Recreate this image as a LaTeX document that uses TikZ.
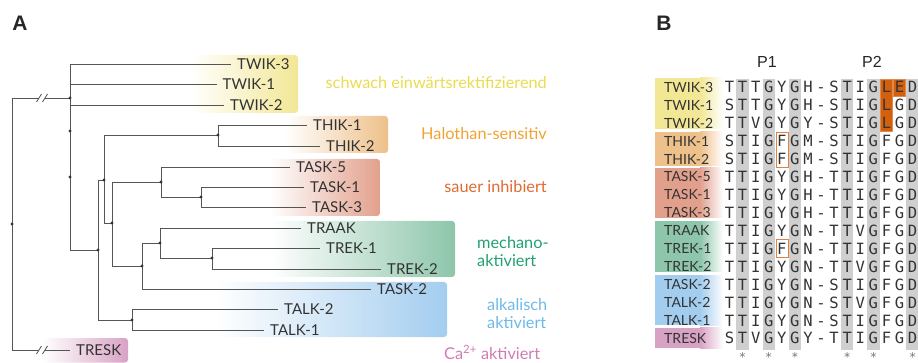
\documentclass[tikz,border=0pt]{standalone}
\usepackage{fontspec}
\setmainfont{Lato}
\newfontfamily\monof{DejaVu Sans Mono}
\newfontfamily\hfont{Liberation Sans}
\definecolor{cY}{HTML}{F2E795}
\definecolor{cO}{HTML}{EEC08A}
\definecolor{cS}{HTML}{E2A08C}
\definecolor{cG}{HTML}{8DC6AB}
\definecolor{cB}{HTML}{A3CDEF}
\definecolor{cP}{HTML}{D8A2C4}
\definecolor{tY}{HTML}{EADB50}
\definecolor{tO}{HTML}{EFA332}
\definecolor{tS}{HTML}{DE6B32}
\definecolor{tG}{HTML}{22A070}
\definecolor{tB}{HTML}{6DB9E8}
\definecolor{tP}{HTML}{D07CB2}
\definecolor{lncol}{HTML}{555555}
\definecolor{txt}{HTML}{333333}
\definecolor{gbar}{HTML}{CFCFCF}
\definecolor{orF}{HTML}{D2600C}
\definecolor{orL}{HTML}{E08A50}
\newcommand\seqrow[3]{%
  \node[bname] (n#1) at (664,{87.3+17.93*#1}) {#2};
  \foreach[count=\c from 0] \ch in {#3} {\node[seqch] (s#1-\c) at ({729.5+13.08*\c},{87.3+17.93*#1}) {\ch};}
}
\begin{document}
\begin{tikzpicture}[x=1pt,y=-1pt,
  tl/.style={draw=lncol, line width=0.9pt},
  leaf/.style={anchor=west, font=\fontsize{15}{15}\selectfont, text=txt, text height=10.7pt, text depth=0pt, inner ysep=0pt, inner xsep=6pt},
  grp/.style={font=\fontsize{16.3}{18}\selectfont, inner sep=0pt},
  panel/.style={font=\hfont\bfseries\fontsize{21}{21}\selectfont, text=black!85, inner sep=0pt},
  bname/.style={anchor=west, font=\fontsize{14}{14}\selectfont, text=txt, text height=10pt, text depth=0pt, inner sep=0pt},
  seqch/.style={font=\monof\fontsize{15.5}{15.5}\selectfont, text=txt, text height=11.3pt, text depth=0pt, inner sep=0pt},
  ast/.style={font=\monof\fontsize{12}{12}\selectfont, text=black!55, inner sep=0pt},
  plab/.style={font=\hfont\fontsize{16}{16}\selectfont, text=black!85, inner sep=0pt}]
\useasboundingbox (0,0) rectangle (918,363);

% ---------- panel A boxes
\shade[left color=white,right color=cY,rounded corners=3pt] (190,55) rectangle (298,113);
\shade[left color=white,right color=cO,rounded corners=3pt] (285,116) rectangle (388,153);
\shade[left color=white,right color=cS,rounded corners=3pt] (270,159) rectangle (380,216);
\shade[left color=white,right color=cG,rounded corners=3pt] (270,221) rectangle (455,277);
\shade[left color=white,right color=cB,rounded corners=3pt] (215,282) rectangle (447,337);
\shade[left color=white,right color=cP,rounded corners=3pt] (42,338) rectangle (128,362.5);

\node[panel] (A) at (20,23) {A};
\node[panel] (B) at (664,23) {B};

% ---------- leaves
\node[leaf] (twik3) at (231,64) {TWIK-3};
\node[leaf] (twik1) at (216.5,84) {TWIK-1};
\node[leaf] (twik2) at (224,105) {TWIK-2};
\node[leaf] (thik1) at (307,125) {THIK-1};
\node[leaf] (thik2) at (320,146) {THIK-2};
\node[leaf] (task5) at (290,167) {TASK-5};
\node[leaf] (task1) at (304,187) {TASK-1};
\node[leaf] (task3) at (306,207) {TASK-3};
\node[leaf] (traak) at (301,228) {TRAAK};
\node[leaf] (trek1) at (320,248) {TREK-1};
\node[leaf] (trek2) at (381,269) {TREK-2};
\node[leaf] (task2) at (371,289) {TASK-2};
\node[leaf] (talk2) at (278,309) {TALK-2};
\node[leaf] (talk1) at (264,330) {TALK-1};
\node[leaf] (tresk) at (70,350) {TRESK};

% ---------- internal nodes
\coordinate (r) at (12,224);
\coordinate (t) at (70,98);
\coordinate (t2) at (70,131);
\coordinate (t3) at (70,177);
\coordinate (a) at (98,250);
\coordinate (b) at (104,180);
\coordinate (c) at (132,320);
\coordinate (d) at (218,135);
\coordinate (e) at (112,223);
\coordinate (f) at (161,182);
\coordinate (g) at (201,197);
\coordinate (h) at (142,266);
\coordinate (i) at (160,243);
\coordinate (j) at (212,258);
\coordinate (k1) at (39,98);
\coordinate (k2) at (45,98);
\coordinate (k3) at (39,350);
\coordinate (k4) at (45,350);

\draw[tl] (r) |- (k1);
\draw[tl] (k2) -- (t);
\draw[tl] (r) |- (k3);
\draw[tl] (k4) -- (tresk.west);
\foreach \p in {k1,k2,k3,k4} \draw[lncol, line width=0.8pt] ([shift={(-2.5,4)}]\p) -- ([shift={(2.5,-4)}]\p);

\draw[tl] (t) |- (twik3.west);
\draw[tl] (t) |- (twik1.west);
\draw[tl] (t) |- (twik2.west);
\draw[tl] (t) |- (a);
\draw[tl] (a) |- (b);
\draw[tl] (a) |- (c);
\draw[tl] (b) |- (d);
\draw[tl] (b) |- (e);
\draw[tl] (d) |- (thik1.west);
\draw[tl] (d) |- (thik2.west);
\draw[tl] (e) |- (f);
\draw[tl] (e) |- (h);
\draw[tl] (f) |- (task5.west);
\draw[tl] (f) |- (g);
\draw[tl] (g) |- (task1.west);
\draw[tl] (g) |- (task3.west);
\draw[tl] (h) |- (i);
\draw[tl] (h) |- (task2.west);
\draw[tl] (i) |- (traak.west);
\draw[tl] (i) |- (j);
\draw[tl] (j) |- (trek1.west);
\draw[tl] (j) |- (trek2.west);
\draw[tl] (c) |- (talk2.west);
\draw[tl] (c) |- (talk1.west);
\foreach \p in {r,t,t2,t3,a,b,c,d,e,f,g,h,i,j} \fill[black!80] (\p) circle (1.6);

% ---------- group labels
\node[grp, anchor=base east, text=tY] (gY) at (547,89) {schwach einwärtsrektifizierend};
\node[grp, anchor=base east, text=tO] (gO) at (547,139.3) {Halothan-sensitiv};
\node[grp, anchor=base east, text=tS] (gS) at (547,192.3) {sauer inhibiert};
\node[grp, anchor=north west, align=left, text=tG] (gG) at (477,236) {mechano-\\aktiviert};
\node[grp, anchor=north west, align=left, text=tB] (gB) at (487,297.8) {alkalisch\\aktiviert};
\node[grp, anchor=base west, text=tP] (gP) at (444,359.3) {Ca\textsuperscript{2+} aktiviert};

% ---------- panel B
\fill[cY] (655,78) rectangle (700,129);
\shade[left color=cY,right color=white] (700,78) rectangle (723,129);
\fill[cO] (655,132) rectangle (700,166);
\shade[left color=cO,right color=white] (700,132) rectangle (723,166);
\fill[cS] (655,168) rectangle (700,218);
\shade[left color=cS,right color=white] (700,168) rectangle (723,218);
\fill[cG] (655,221.5) rectangle (700,272);
\shade[left color=cG,right color=white] (700,221.5) rectangle (723,272);
\fill[cB] (655,275.5) rectangle (700,325);
\shade[left color=cB,right color=white] (700,275.5) rectangle (723,325);
\fill[cP] (655,327.5) rectangle (700,348);
\shade[left color=cP,right color=white] (700,327.5) rectangle (723,348);

\foreach \c in {1,3,5,9,11,14} \fill[gbar] ({729.5+13.08*\c-6.2},79) rectangle ({729.5+13.08*\c+6.2},350);
\fill[orF, draw=orL, line width=0.6pt] (880.5,79.5) rectangle (892.5,131);
\fill[orF, draw=orL, line width=0.6pt] (893.5,79.5) rectangle (905.5,96);
\draw[orL!80!orF, line width=0.9pt] (776,132) rectangle (788.5,167);
\draw[orL!80!orF, line width=0.9pt] (776,239.5) rectangle (788.5,257.5);

\node[plab] (p1) at (767,62) {P1};
\node[plab] (p2) at (872,62) {P2};

\seqrow{0}{TWIK-3}{T,T,T,G,Y,G,H,-,S,T,I,G,L,E,D}
\seqrow{1}{TWIK-1}{S,T,T,G,Y,G,H,-,S,T,I,G,L,G,D}
\seqrow{2}{TWIK-2}{T,T,V,G,Y,G,Y,-,S,T,I,G,L,G,D}
\seqrow{3}{THIK-1}{S,T,I,G,F,G,M,-,S,T,I,G,F,G,D}
\seqrow{4}{THIK-2}{S,T,I,G,F,G,M,-,S,T,I,G,F,G,D}
\seqrow{5}{TASK-5}{T,T,I,G,Y,G,H,-,T,T,I,G,F,G,D}
\seqrow{6}{TASK-1}{T,T,I,G,Y,G,H,-,T,T,I,G,F,G,D}
\seqrow{7}{TASK-3}{T,T,I,G,Y,G,H,-,T,T,I,G,F,G,D}
\seqrow{8}{TRAAK}{T,T,I,G,Y,G,N,-,T,T,V,G,F,G,D}
\seqrow{9}{TREK-1}{T,T,I,G,F,G,N,-,T,T,I,G,F,G,D}
\seqrow{10}{TREK-2}{T,T,I,G,Y,G,N,-,T,T,V,G,F,G,D}
\seqrow{11}{TASK-2}{T,T,I,G,Y,G,N,-,S,T,I,G,F,G,D}
\seqrow{12}{TALK-2}{T,T,I,G,Y,G,N,-,S,T,V,G,F,G,D}
\seqrow{13}{TALK-1}{T,T,I,G,Y,G,N,-,S,T,I,G,F,G,D}
\seqrow{14}{TRESK}{S,T,V,G,Y,G,Y,-,T,T,I,G,F,G,D}

\foreach \c in {1,3,5,9,11,14} \node[ast] (ast\c) at ({729.5+13.08*\c},357) {*};
\end{tikzpicture}
\end{document}
